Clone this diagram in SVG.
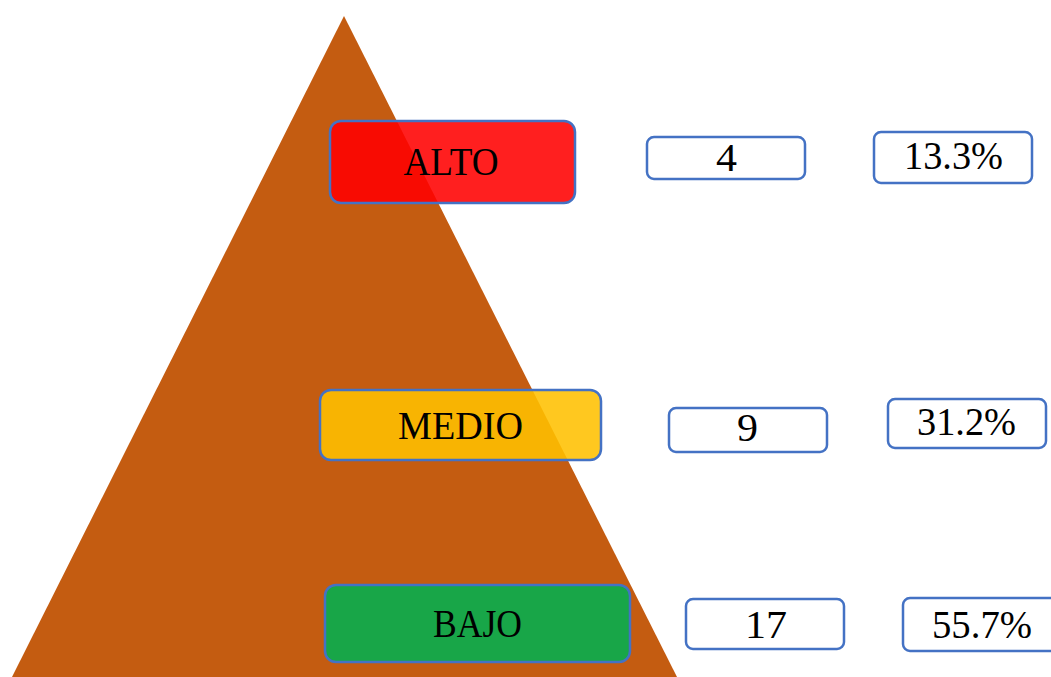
<svg xmlns="http://www.w3.org/2000/svg" width="1051" height="677" viewBox="0 0 1051 677">
  <style>
    .lvl { stroke: #4472C4; stroke-width: 2.5; }
    .box { fill: #FFFFFF; stroke: #4472C4; stroke-width: 2.5; }
    .t { font-family: "Liberation Serif", "Times New Roman", serif; font-size: 40px; fill: #000000; text-anchor: middle; }
  </style>
  <rect width="1051" height="677" fill="#FFFFFF"/>
  <g id="pyramid">
    <polygon points="344,16 12,677 677,677" fill="#C45C11"/>
  </g>
  <g id="alto">
    <rect class="lvl" x="330" y="121" width="245" height="82" rx="11" fill="#FF0000" fill-opacity="0.88"/>
    <text class="t" x="451" y="175" textLength="95" lengthAdjust="spacingAndGlyphs">ALTO</text>
  </g>
  <g id="medio">
    <rect class="lvl" x="320" y="390" width="281" height="70" rx="11" fill="#FFC000" fill-opacity="0.88"/>
    <text class="t" x="460.5" y="439" textLength="125" lengthAdjust="spacingAndGlyphs">MEDIO</text>
  </g>
  <g id="bajo">
    <rect class="lvl" x="325" y="585" width="305" height="77" rx="11" fill="#00B050" fill-opacity="0.88"/>
    <text class="t" x="477.5" y="637" textLength="89" lengthAdjust="spacingAndGlyphs">BAJO</text>
  </g>
  <g id="count-alto">
    <rect class="box" x="647" y="137" width="158" height="42" rx="7"/>
    <text class="t" x="726.5" y="171" textLength="21" lengthAdjust="spacingAndGlyphs">4</text>
  </g>
  <g id="pct-alto">
    <rect class="box" x="874" y="132" width="158" height="51" rx="7"/>
    <text class="t" x="953.5" y="169" textLength="99" lengthAdjust="spacingAndGlyphs">13.3%</text>
  </g>
  <g id="count-medio">
    <rect class="box" x="669" y="408" width="158" height="44" rx="7"/>
    <text class="t" x="747.5" y="441" textLength="21" lengthAdjust="spacingAndGlyphs">9</text>
  </g>
  <g id="pct-medio">
    <rect class="box" x="888" y="399" width="158" height="49" rx="7"/>
    <text class="t" x="966.5" y="435" textLength="99" lengthAdjust="spacingAndGlyphs">31.2%</text>
  </g>
  <g id="count-bajo">
    <rect class="box" x="686" y="599" width="158" height="50" rx="7"/>
    <text class="t" x="766" y="638" textLength="42" lengthAdjust="spacingAndGlyphs">17</text>
  </g>
  <g id="pct-bajo">
    <rect class="box" x="903" y="598" width="160" height="53" rx="7"/>
    <text class="t" x="982" y="638" textLength="100" lengthAdjust="spacingAndGlyphs">55.7%</text>
  </g>
  <g id="connectors"></g>
</svg>
